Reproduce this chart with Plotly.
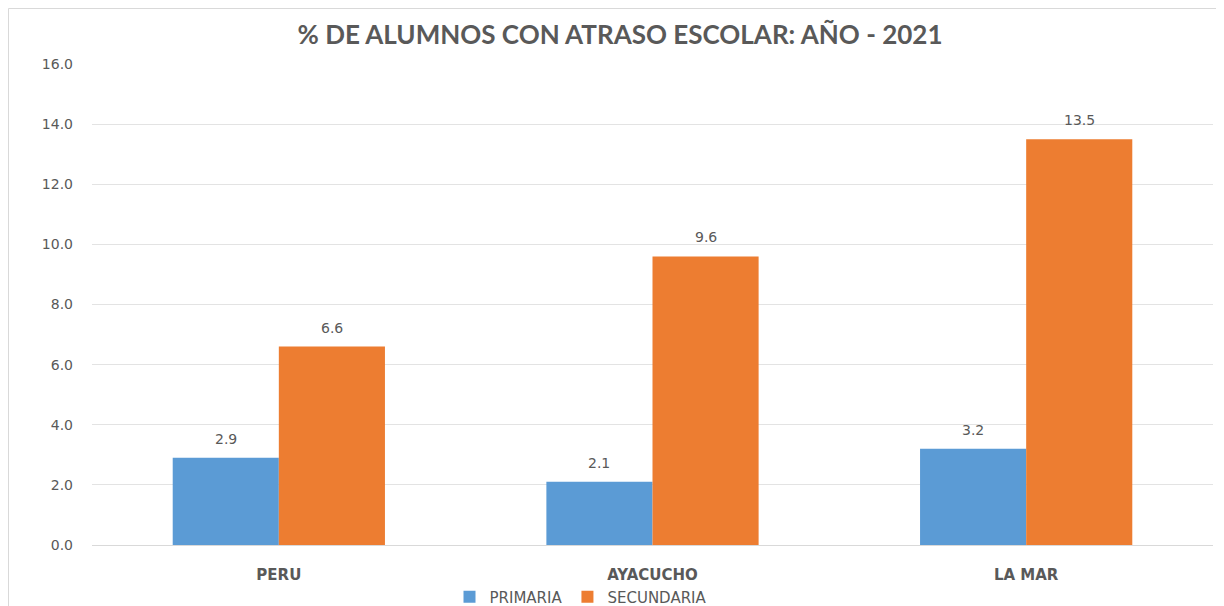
import plotly.graph_objects as go

categories = ["PERU", "AYACUCHO", "LA MAR"]
primaria = [2.9, 2.1, 3.2]
secundaria = [6.6, 9.6, 13.5]
series_names = ["PRIMARIA", "SECUNDARIA"]
tick_vals = [0, 2, 4, 6, 8, 10, 12, 14, 16]
tick_text = ["0.0", "2.0", "4.0", "6.0", "8.0", "10.0", "12.0", "14.0", "16.0"]

blue = "#5B9BD5"
orange = "#ED7D31"
txt = "#595959"

# figure sits 8px in from the page corner (default body margin)
W, H = 1216, 598
L, R, T, B = 84, 11, 56, 61
plot_w = W - L - R
plot_h = H - T - B
bargap = 0.432
bar_px = plot_w / len(categories) * (1 - bargap) / 2

fig = go.Figure()
fig.add_trace(go.Bar(x=categories, y=primaria, name=series_names[0],
                     marker=dict(color=blue, line=dict(width=0))))
fig.add_trace(go.Bar(x=categories, y=secundaria, name=series_names[1],
                     marker=dict(color=orange, line=dict(width=0))))

annotations = []
for vals, sign in ((primaria, -1), (secundaria, 1)):
    for c, v in zip(categories, vals):
        annotations.append(dict(x=c, y=v, xref="x", yref="y", text=f"{v:.1f}",
                                showarrow=False, xshift=sign * bar_px / 2, yanchor="bottom",
                                yshift=9, font=dict(family="DejaVu Sans", size=14, color=txt)))

fig.update_layout(
    width=W, height=H,
    margin=dict(l=L, r=R, t=T, b=B, autoexpand=False),
    paper_bgcolor="white", plot_bgcolor="white",
    barmode="group", bargap=bargap, bargroupgap=0,
    title=dict(text="<b>% DE ALUMNOS CON ATRASO ESCOLAR: AÑO - 2021</b>",
               x=612 / W, xanchor="center", y=1 - 27 / H, yanchor="middle",
               font=dict(family="Lato", size=26, color=txt)),
    showlegend=True,
    legend=dict(orientation="h", x=(573 - L) / plot_w, xanchor="center",
                y=-(589 - (H - B)) / plot_h, yanchor="middle",
                font=dict(family="DejaVu Sans", size=15, color=txt),
                itemwidth=30, traceorder="normal"),
    xaxis=dict(showgrid=False, showline=False, ticks="", ticklabelstandoff=19, automargin=False,
               tickfont=dict(family="DejaVu Sans", size=15, color=txt)),
    yaxis=dict(range=[0, 16], tickvals=tick_vals, ticktext=tick_text, automargin=False,
               showgrid=True, gridcolor="#E3E3E3", gridwidth=1, zeroline=True,
               zerolinecolor="#D9D9D9", zerolinewidth=1, showline=False,
               ticks="", ticklabelstandoff=18,
               tickfont=dict(family="DejaVu Sans", size=14, color=txt)),
    annotations=annotations,
    shapes=[dict(type="rect", xref="paper", yref="paper",
                 x0=(0.5 - L) / plot_w, x1=(W + 10 - L) / plot_w,
                 y0=-(H + 10 - (H - B)) / plot_h, y1=1 + (T - 0.5) / plot_h,
                 line=dict(color="#D9D9D9", width=1), fillcolor="rgba(0,0,0,0)", layer="below")],
)
fig.update_xaxes(tickfont=dict(family="DejaVu Sans", size=15, color=txt), tickprefix="<b>", ticksuffix="</b>")

fig.write_html("out.html")
